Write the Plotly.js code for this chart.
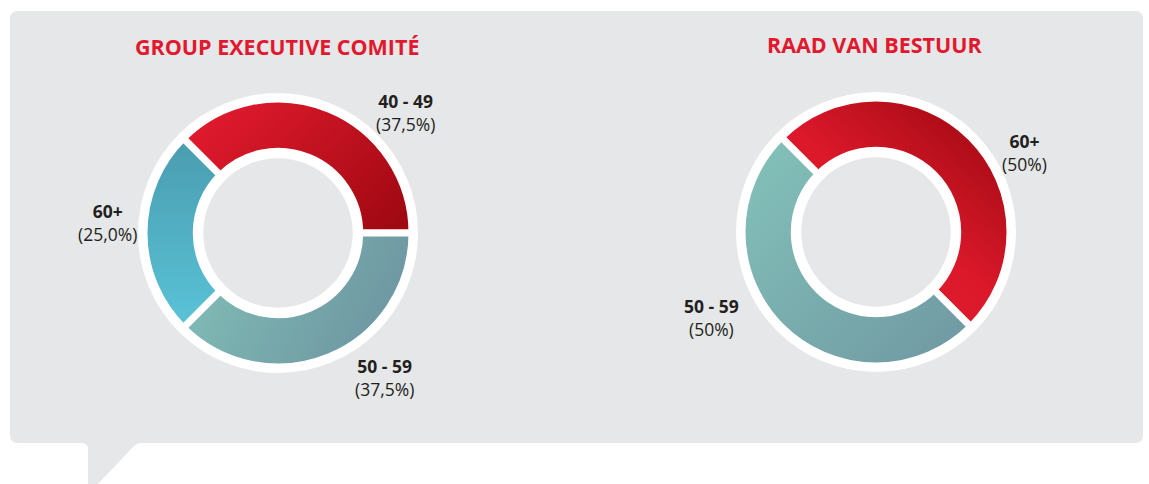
<!DOCTYPE html>
<html>
<head>
<meta charset="utf-8">
<script src="https://cdn.plot.ly/plotly-3.0.1.min.js"></script>
<style>
  html, body { margin: 0; padding: 0; background: #ffffff; }
  #chart { width: 1149px; height: 484px; }
</style>
</head>
<body>
<div id="chart"></div>
<script>
// ---- data ----
const gecTitle = 'GROUP EXECUTIVE COMITÉ';
const gecLabels = ['40 - 49', '50 - 59', '60+'];
const gecValues = [37.5, 37.5, 25.0];
const gecColors = ['#c3121f', '#78aaad', '#52afc4'];

const rvbTitle = 'RAAD VAN BESTUUR';
const rvbLabels = ['60+', '50 - 59'];
const rvbValues = [50, 50];
const rvbColors = ['#c3121f', '#78aaad'];

// ---- layout helpers (pixel -> paper) ----
const W = 1149, H = 484;
const px = x => x / W;
const py = y => 1 - y / H;

const R = 134, HOLE = 0.61;
const c1 = {x: 278, y: 233};
const c2 = {x: 876, y: 232};

function domainFor(c) {
  return { x: [px(c.x - R), px(c.x + R)], y: [py(c.y + R), py(c.y - R)] };
}
function pct(v, dec) {
  return '(' + v.toFixed(dec).replace('.', ',') + '%)';
}

const pieCommon = {
  type: 'pie', hole: HOLE, sort: false, direction: 'clockwise', rotation: -45,
  textinfo: 'none', hoverinfo: 'label+percent', showlegend: false
};

const traces = [
  Object.assign({}, pieCommon, {
    labels: gecLabels, values: gecValues, domain: domainFor(c1),
    marker: { colors: gecColors, line: { color: '#ffffff', width: 7 } }
  }),
  Object.assign({}, pieCommon, {
    labels: rvbLabels, values: rvbValues, domain: domainFor(c2),
    marker: { colors: rvbColors, line: { color: '#ffffff', width: 7 } }
  })
];

// panel with speech-bubble tail
const P = (x, y) => px(x).toFixed(5) + ',' + py(y).toFixed(5);
const L = 10, T = 11, Rt = 1143, B = 443, r = 8;
const panelPath =
  'M' + P(L + r, T) + ' L' + P(Rt - r, T) + ' Q' + P(Rt, T) + ' ' + P(Rt, T + r) +
  ' L' + P(Rt, B - r) + ' Q' + P(Rt, B) + ' ' + P(Rt - r, B) +
  ' L' + P(141, B) + ' Q' + P(137, B) + ' ' + P(134, B + 3) +
  ' L' + P(98, 484) + ' L' + P(88, 484) + ' L' + P(88, B + 6) + ' Q' + P(88, B) + ' ' + P(82, B) +
  ' L' + P(L + r, B) + ' Q' + P(L, B) + ' ' + P(L, B - r) +
  ' L' + P(L, T + r) + ' Q' + P(L, T) + ' ' + P(L + r, T) + ' Z';

function circle(c, rad, color) {
  return { type: 'circle', xref: 'paper', yref: 'paper', layer: 'below',
    x0: px(c.x - rad), x1: px(c.x + rad), y0: py(c.y + rad), y1: py(c.y - rad),
    fillcolor: color, line: { width: 0 } };
}

const shapes = [
  { type: 'path', xref: 'paper', yref: 'paper', layer: 'below', path: panelPath,
    fillcolor: '#e6e7e8', line: { width: 0 } },
  circle(c1, R + 6, '#ffffff'), circle(c1, R * HOLE - 7, '#e6e7e8'),
  circle(c2, R + 6, '#ffffff'), circle(c2, R * HOLE - 7, '#e6e7e8')
];

const titleFont = { family: 'Open Sans, sans-serif', size: 21.5, color: '#e2192e' };
const lblFont = { family: 'Open Sans, sans-serif', size: 17.5, color: '#231f20' };

function lab(text, value, dec, x, y) {
  return { xref: 'paper', yref: 'paper', x: px(x), y: py(y), xanchor: 'center', yanchor: 'middle',
    showarrow: false, align: 'center', font: lblFont,
    text: '<b>' + text + '</b><br>' + pct(value, dec) };
}

const annotations = [
  { xref: 'paper', yref: 'paper', x: px(277), y: py(46), xanchor: 'center', yanchor: 'middle',
    showarrow: false, font: titleFont, text: '<b>' + gecTitle + '</b>' },
  { xref: 'paper', yref: 'paper', x: px(875), y: py(45), xanchor: 'center', yanchor: 'middle',
    showarrow: false, font: titleFont, text: '<b>' + rvbTitle + '</b>' },
  lab(gecLabels[0], gecValues[0], 1, 405, 112),
  lab(gecLabels[1], gecValues[1], 1, 384, 377),
  lab(gecLabels[2], gecValues[2], 1, 107, 222),
  lab(rvbLabels[0], rvbValues[0], 0, 1024, 152),
  lab(rvbLabels[1], rvbValues[1], 0, 712, 317)
];

const layout = {
  width: W, height: H, margin: { l: 0, r: 0, t: 0, b: 0 },
  paper_bgcolor: '#ffffff', plot_bgcolor: 'rgba(0,0,0,0)',
  shapes: shapes, annotations: annotations, showlegend: false
};

// gradient styling for slices: [id, x1, y1, x2, y2, stops...]
const grads = [
  [ ['gA0', 0, 0.2, 1, 0.8, [[0, '#e31b2f'], [1, '#a10912']]],
    ['gA1', 0, 0, 1, 0.3, [[0, '#83c1b8'], [1, '#6e97a2']]],
    ['gA2', 0, 0, 0, 1, [[0, '#4a9caf'], [1, '#5ac3d8']]] ],
  [ ['gB0', 0.1, 1, 0.9, 0.05, [[0, '#e31b2f'], [0.5, '#dc192b'], [1, '#a00912']]],
    ['gB1', 0, 0, 1, 1, [[0, '#84c3ba'], [1, '#6f97a2']]] ]
];

Plotly.newPlot('chart', traces, layout, { displayModeBar: false, staticPlot: true }).then(gd => {
  const svg = gd.querySelector('svg.main-svg');
  const NS = 'http://www.w3.org/2000/svg';
  let defs = svg.querySelector('defs');
  if (!defs) { defs = document.createElementNS(NS, 'defs'); svg.insertBefore(defs, svg.firstChild); }
  grads.flat().forEach(g => {
    const lg = document.createElementNS(NS, 'linearGradient');
    lg.setAttribute('id', g[0]);
    lg.setAttribute('x1', g[1]); lg.setAttribute('y1', g[2]);
    lg.setAttribute('x2', g[3]); lg.setAttribute('y2', g[4]);
    g[5].forEach(s => {
      const st = document.createElementNS(NS, 'stop');
      st.setAttribute('offset', s[0]); st.setAttribute('stop-color', s[1]);
      lg.appendChild(st);
    });
    defs.appendChild(lg);
  });
  const pieTraces = gd.querySelectorAll('.pielayer .trace');
  pieTraces.forEach((tr, ti) => {
    tr.querySelectorAll('g.slice path.surface').forEach((p, si) => {
      if (grads[ti] && grads[ti][si]) p.style.fill = 'url(#' + grads[ti][si][0] + ')';
    });
  });
});
</script>
</body>
</html>
